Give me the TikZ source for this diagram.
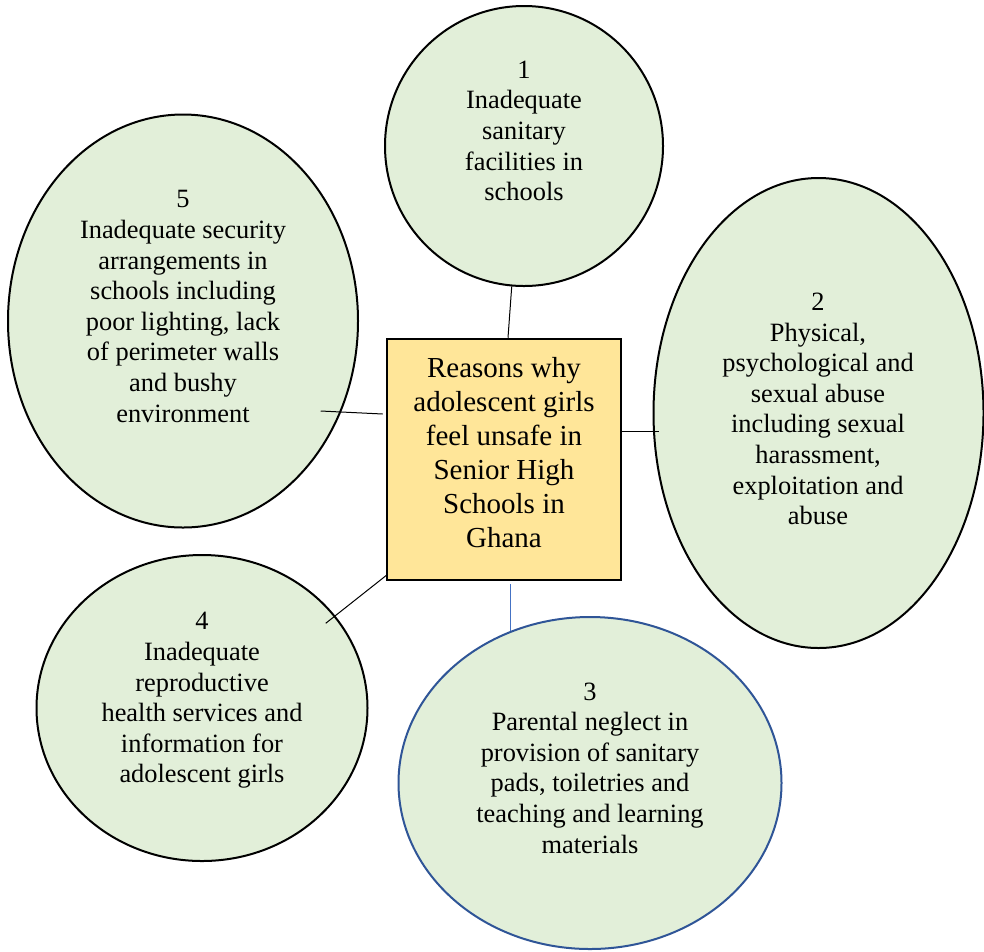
\documentclass[tikz,border=0pt]{standalone}
\usepackage{fontspec}
\setmainfont{Liberation Serif}
\newfontfamily\timesface{Liberation Serif}
\usetikzlibrary{shapes.geometric}
\definecolor{leafgreen}{HTML}{E2EFD9}
\definecolor{softgold}{HTML}{FFE699}
\definecolor{deepblue}{HTML}{2F5597}
\definecolor{lineblue}{HTML}{4472C4}
\begin{document}
\begin{tikzpicture}[x=0.75pt,y=-0.75pt,
  reason/.style={ellipse,draw=black,line width=1.5pt,fill=leafgreen,inner sep=0pt},
  hub/.style={rectangle,draw=black,line width=1.9pt,fill=softgold,inner sep=0pt,
    minimum width=175.5pt,minimum height=180.75pt},
  txt/.style={align=center,inner sep=0pt,
    font=\timesface\fontsize{19.8pt}{22.95pt}\selectfont},
  hubtxt/.style={align=center,inner sep=0pt,
    font=\timesface\fontsize{21.75pt}{25.5pt}\selectfont},
  link/.style={draw=black,line width=0.75pt}]
\useasboundingbox (0,0) rectangle (984,951);

% outer reasons
\node[reason,minimum width=208.5pt,minimum height=210pt] (e1) at (524,146) {};
\node[reason,minimum width=247.5pt,minimum height=352.5pt] (e2) at (818.5,413) {};
\node[reason,draw=deepblue,minimum width=287.25pt,minimum height=249pt] (e3) at (590,783) {};
\node[reason,minimum width=248.25pt,minimum height=229.5pt] (e4) at (202,708) {};
\node[reason,minimum width=262.5pt,minimum height=309.75pt] (e5) at (183,321) {};

% central box
\node[hub] (hub) at (504,459.5) {};

% connectors
\draw[link] (e1.265) -- ([xshift=3pt]hub.north);
\draw[link] ([shift={(0,-28.5)}]hub.east) -- ++(37,0);
\draw[link] ([shift={(-3,-45.5)}]hub.west) -- ++(-62,-3);
\draw[link] ([shift={(2,-7)}]hub.south west) -- ++(-62,49);
\draw[draw=lineblue,line width=0.75pt] ([shift={(6,3)}]hub.south) -- ++(0,47);

% texts
\node[txt] (t1) at (524,131) {1\\Inadequate\\sanitary\\facilities in\\schools};
\node[txt] (t2) at (818,409) {2\\Physical,\\psychological and\\sexual abuse\\including sexual\\harassment,\\exploitation and\\abuse};
\node[txt] (t3) at (590,768) {3\\Parental neglect in\\provision of sanitary\\pads, toiletries and\\teaching and learning\\materials};
\node[txt] (t4) at (202,700.5) {4\\Inadequate\\reproductive\\health services and\\information for\\adolescent girls};
\node[txt] (t5) at (183,306.5) {5\\Inadequate security\\arrangements in\\schools including\\poor lighting, lack\\of perimeter walls\\and bushy\\environment};
\node[hubtxt] (th) at (504,452.5) {Reasons why\\adolescent girls\\feel unsafe in\\Senior High\\Schools in\\Ghana};
\end{tikzpicture}
\end{document}
